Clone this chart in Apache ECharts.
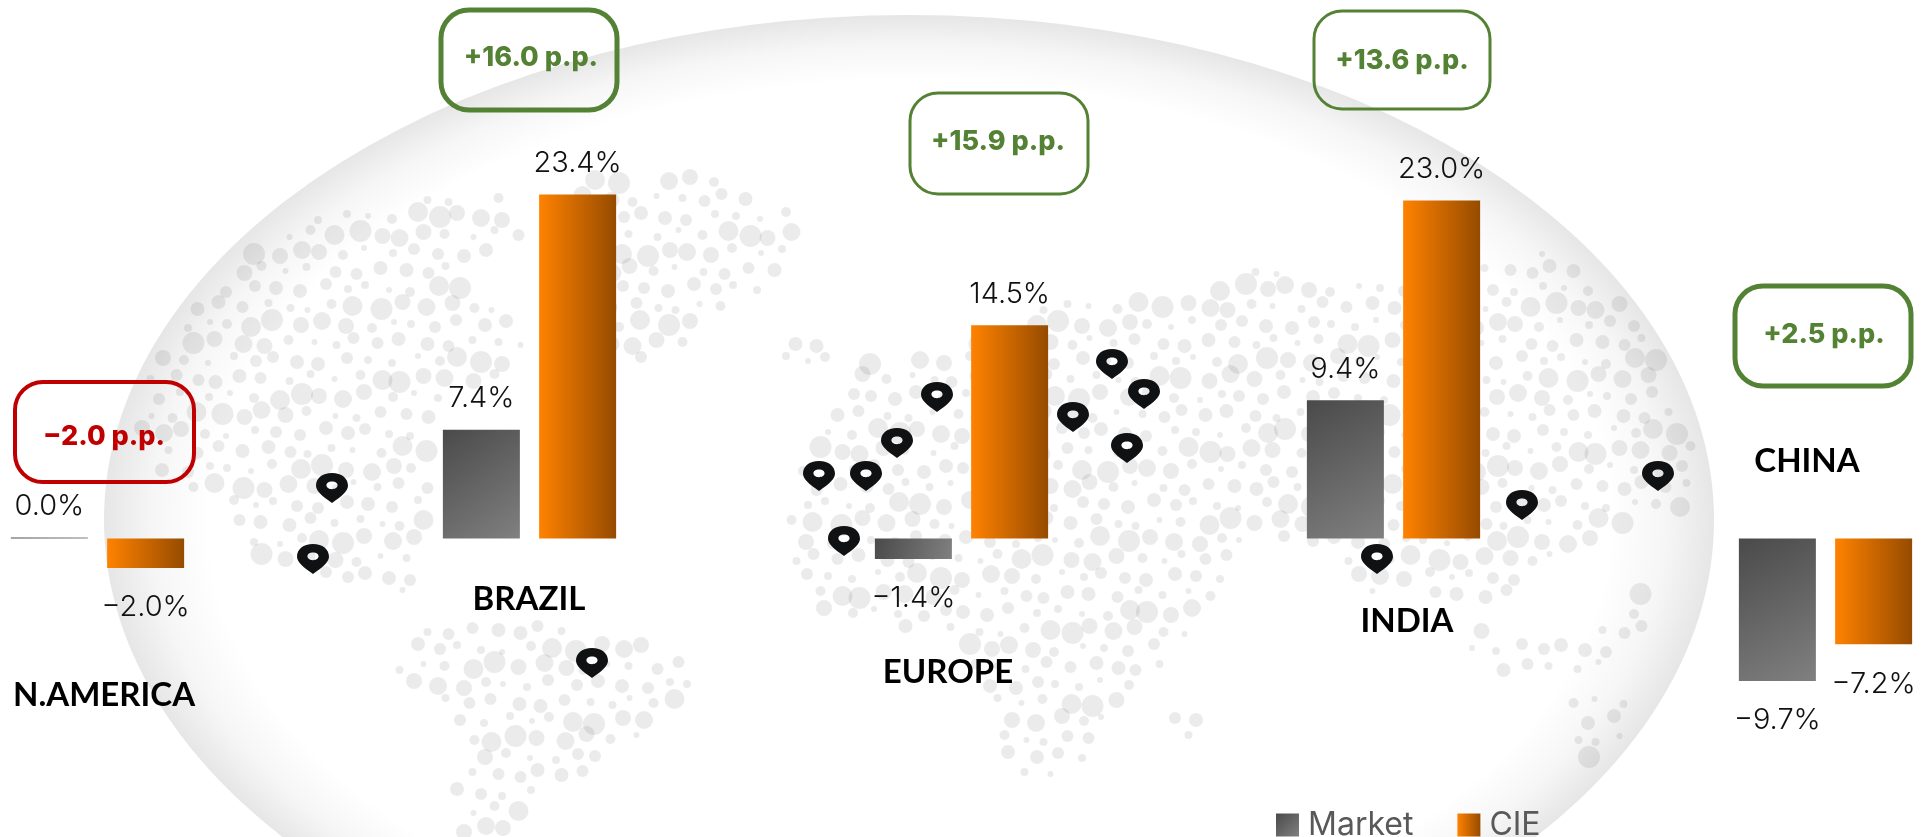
<!DOCTYPE html>
<html>
<head>
<meta charset="utf-8">
<title>Market vs CIE by region</title>
<style>
	html, body { margin: 0; padding: 0; background: #fff; }
	#chart { width: 1923px; height: 837px; }
</style>
<script src="https://cdn.jsdelivr.net/npm/echarts@6/dist/echarts.min.js"></script>
</head>
<body>
<div id="chart"></div>
<script>
// values
const regions = ['N.AMERICA', 'BRAZIL', 'EUROPE', 'INDIA', 'CHINA'];
const marketValues = [0.0, 7.4, -1.4, 9.4, -9.7];
const cieValues = [-2.0, 23.4, 14.5, 23.0, -7.2];
const deltaLabels = ['-2.0 p.p.', '+16.0 p.p.', '+15.9 p.p.', '+13.6 p.p.', '+2.5 p.p.'];

// map pins, in page pixels
const pinPoints = [
	[332, 488], [313, 559], [592, 663], [937, 397], [897, 443], [819, 476], [866, 476], [844, 541],
	[1112, 364], [1144, 394], [1073, 417], [1127, 448], [1522, 505], [1658, 476], [1377, 559],
];

// where the callouts and region names sit: x, y, w, h, border, textX, textY
const deltaBoxes = [
	[15, 382, 179, 100, 4, 104, 437],
	[441, 10, 176, 100, 5, 531, 58],
	[910, 93, 178, 101, 3, 998, 142],
	[1314, 11, 176, 98, 3, 1402, 61],
	[1735, 286, 176, 100, 5, 1824, 335],
];
const regionNamePos = [[104, 695], [529, 599], [948, 672], [1407, 621], [1807, 461]];

// rough continents for the dotted map behind the bars
const land = [
	[[200, 267], [290, 225], [385, 200], [511, 197], [530, 240], [460, 263], [470, 293], [505, 320], [530, 337], [505, 373], [440, 400], [428, 507], [424, 600], [367, 592], [335, 587], [245, 547], [204, 500], [163, 473], [135, 413], [143, 340]],
	[[560, 180], [700, 175], [802, 213], [786, 250], [764, 293], [720, 320], [687, 347], [643, 363], [600, 353], [570, 270]],
	[[775, 335], [835, 333], [835, 360], [785, 362]],
	[[398, 630], [470, 612], [555, 620], [705, 663], [672, 707], [605, 763], [539, 787], [505, 833], [448, 833], [448, 787], [464, 753], [448, 703], [398, 687]],
	[[820, 417], [868, 363], [950, 350], [1072, 293], [1210, 293], [1246, 270], [1384, 283], [1511, 253], [1557, 253], [1613, 290], [1674, 367], [1710, 450], [1700, 490], [1685, 513], [1628, 521], [1567, 554], [1510, 595], [1485, 605], [1400, 590], [1368, 603], [1327, 557], [1260, 540], [1194, 623], [1136, 693], [1086, 760], [1053, 787], [1003, 770], [987, 700], [953, 630], [837, 623], [779, 570], [800, 480]],
	[[1170, 707], [1202, 707], [1202, 747], [1170, 747]],
	[[1460, 625], [1530, 640], [1580, 630], [1640, 590], [1660, 620], [1590, 680], [1520, 680], [1470, 650]],
	[[1567, 700], [1640, 690], [1650, 760], [1580, 775]],
];
const dotSizes = [8, 4, 6, 10, 5, 7, 3, 9, 6, 4, 11, 3, 7, 5, 8, 6, 4];
const dotShift = [-3, 2, 4, -2, 0, 3, -4, 1];

const insidePoly = (x, y, poly) => {
	let hit = false;
	for (let i = 0, j = poly.length - 1; i < poly.length; j = i++) {
		const [xi, yi] = poly[i];
		const [xj, yj] = poly[j];
		if ((yi > y) !== (yj > y) && x < ((xj - xi) * (y - yi)) / (yj - yi) + xi) hit = !hit;
	}
	return hit;
};

// globe centre and radii
const GX = 909, GY = 520, RX = 805, RY = 505;

const buildDots = () => {
	const dots = [];
	const stepX = 23, stepY = 18;
	for (let row = 0; row * stepY < 837; row++) {
		for (let col = 0; col * stepX < 1923; col++) {
			const sx = dotShift[(col * 3 + row) % dotShift.length];
			const sy = dotShift[(col + row * 5) % dotShift.length];
			const x = col * stepX + (row % 2 ? stepX / 2 : 0) + sx;
			const y = row * stepY + sy;
			const inGlobe = ((x - GX) / RX) ** 2 + ((y - GY) / RY) ** 2 < 0.97;
			if (!inGlobe || !land.some(p => insidePoly(x, y, p))) continue;
			dots.push({
				type: 'circle',
				silent: true,
				z: 1,
				shape: { cx: x, cy: y, r: dotSizes[(col * 7 + row * 11) % dotSizes.length] },
				style: { fill: 'rgba(0,0,0,0.08)' },
			});
		}
	}
	return dots;
};

const GREEN = '#548235';
const RED = '#C00000';
const LABEL_FONT = 'Inter, Roboto, sans-serif';

const buildOverlay = () => {
	const items = [];
	regions.forEach((name, i) => {
		const [x, y, w, h, bw, tx, ty] = deltaBoxes[i];
		const color = deltaLabels[i][0] === '-' ? RED : GREEN;
		items.push({
			type: 'rect',
			silent: true,
			z: 5,
			shape: { x, y, width: w, height: h, r: 28 },
			style: { fill: 'transparent', stroke: color, lineWidth: bw },
		});
		items.push({
			type: 'text',
			silent: true,
			z: 6,
			x: tx,
			y: ty,
			style: {
				text: deltaLabels[i].replace('-', '\u2212'),
				fill: color,
				font: '800 27px ' + LABEL_FONT,
				align: 'center',
				verticalAlign: 'middle',
			},
		});
		items.push({
			type: 'text',
			silent: true,
			z: 6,
			x: regionNamePos[i][0],
			y: regionNamePos[i][1],
			style: {
				text: name,
				fill: '#000',
				font: '700 33px Lato, sans-serif',
				align: 'center',
				verticalAlign: 'middle',
			},
		});
	});
	return items;
};

const fmtValue = v => (v < 0 ? '\u2212' : '') + Math.abs(v).toFixed(1) + '%';

const toBarData = values => values.map(v => ({
	value: v,
	label: v < 0 ? { position: 'bottom', distance: 25 } : { position: 'top', distance: 17 },
}));

const marketFill = new echarts.graphic.LinearGradient(0, 0, 1, 1, [
	{ offset: 0, color: '#4a4a4a' },
	{ offset: 1, color: '#808080' },
]);
const cieFill = new echarts.graphic.LinearGradient(0, 0, 1, 0, [
	{ offset: 0, color: '#ff8200' },
	{ offset: 1, color: '#964b00' },
]);

const barLabel = {
	show: true,
	color: '#111',
	fontFamily: LABEL_FONT,
	fontSize: 29,
	fontWeight: 300,
	formatter: p => fmtValue(p.value),
};

const chart = echarts.init(document.getElementById('chart'), null, { renderer: 'canvas' });

chart.setOption({
	backgroundColor: '#fff',
	animation: false,
	legend: {
		data: ['Market', 'CIE'],
		left: 1271,
		top: 804,
		itemWidth: 23,
		itemHeight: 23,
		itemGap: 44,
		icon: 'rect',
		textStyle: { color: '#595959', fontFamily: LABEL_FONT, fontSize: 32, fontWeight: 400, padding: [0, 0, 0, 4] },
	},
	// bars run on a 432 px category step, the pin layer is page pixels
	grid: [
		{ left: -118.5, top: 97.5, width: 2160, height: 735, outerBoundsMode: 'none' },
		{ left: 0, top: 0, width: 1923, height: 837, outerBoundsMode: 'none' },
	],
	xAxis: [
		{ type: 'category', gridIndex: 0, data: regions, show: false },
		{ type: 'value', gridIndex: 1, min: 0, max: 1923, show: false },
	],
	yAxis: [
		{ type: 'value', gridIndex: 0, min: -20, max: 30, show: false },
		{ type: 'value', gridIndex: 1, min: 0, max: 837, inverse: true, show: false },
	],
	graphic: [
		{
			type: 'circle',
			silent: true,
			z: 0,
			x: GX,
			y: GY,
			scaleX: RX / RY,
			shape: { cx: 0, cy: 0, r: RY },
			style: {
				fill: new echarts.graphic.RadialGradient(0.5, 0.5, 0.5, [
					{ offset: 0, color: '#ffffff' },
					{ offset: 0.87, color: '#ffffff' },
					{ offset: 0.94, color: '#f6f6f6' },
					{ offset: 1, color: '#e6e6e6' },
				]),
			},
		},
		...buildDots(),
		...buildOverlay(),
	],
	series: [
		{
			name: 'Market',
			type: 'bar',
			data: toBarData(marketValues),
			barWidth: 77,
			barGap: '25%',
			barMinHeight: 1,
			itemStyle: { color: marketFill },
			label: barLabel,
			z: 3,
		},
		{
			name: 'CIE',
			type: 'bar',
			data: toBarData(cieValues),
			barWidth: 77,
			barGap: '25%',
			itemStyle: { color: cieFill },
			label: barLabel,
			z: 3,
		},
		{
			name: 'pins',
			type: 'scatter',
			xAxisIndex: 1,
			yAxisIndex: 1,
			data: pinPoints,
			symbol: 'path://M50 0C22 0 4 18 4 42C4 60 20 76 50 100C80 76 96 60 96 42C96 18 78 0 50 0ZM50 28C59 28 66 33 66 41C66 49 59 54 50 54C41 54 34 49 34 41C34 33 41 28 50 28Z',
			symbolSize: [32, 30],
			itemStyle: { color: '#0f1112', opacity: 1 },
			z: 2,
			silent: true,
		},
	],
});
</script>
</body>
</html>
